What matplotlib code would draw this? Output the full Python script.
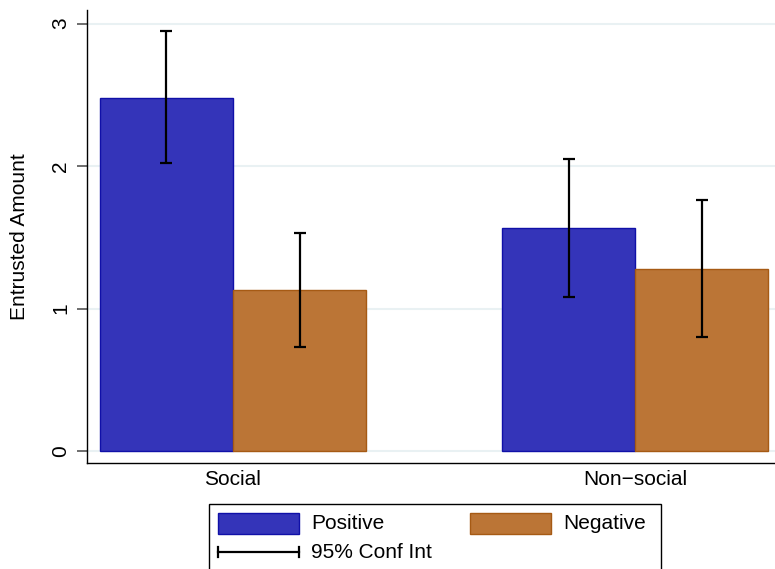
import matplotlib
matplotlib.use("Agg")
import matplotlib.pyplot as plt
from matplotlib.patches import Rectangle
from matplotlib.lines import Line2D
import numpy as np

plt.rcParams['font.family'] = ['Liberation Sans', 'DejaVu Sans']

categories = ["Social", "Non\u2212social"]
series = ["Positive", "Negative"]
means = {"Positive": [2.48, 1.565], "Negative": [1.13, 1.277]}
ci_low = {"Positive": [2.02, 1.08], "Negative": [0.73, 0.80]}
ci_high = {"Positive": [2.95, 2.05], "Negative": [1.53, 1.76]}
yticks = [0, 1, 2, 3]

fill_colors = {"Positive": "#3434B9", "Negative": "#BB7536"}
edge_colors = {"Positive": "#1010A8", "Negative": "#A65A14"}

W, H = 775, 569
fig = plt.figure(figsize=(W / 100, H / 100), dpi=100)
ax = fig.add_axes([87 / W, 1 - 463 / H, (775 - 87) / W, (463 - 10) / H])

x = np.arange(len(categories))
width = 0.331
offsets = {"Positive": -width / 2, "Negative": width / 2}

for s in series:
    xs = x + offsets[s]
    m = np.array(means[s])
    lo = np.array(ci_low[s])
    hi = np.array(ci_high[s])
    ax.bar(xs, m, width=width, color=fill_colors[s], edgecolor=edge_colors[s],
           linewidth=1.0, zorder=2)
    ax.errorbar(xs, m, yerr=[m - lo, hi - m], fmt='none', ecolor='black',
                elinewidth=1.6, capsize=4.5, capthick=1.6, zorder=3)

ax.set_xlim(-0.363, 1.348)
ax.set_ylim(-0.084, 3.095)
ax.set_yticks(yticks)
ax.set_yticklabels([str(t) for t in yticks], rotation=90, va='center', fontsize=15)
ax.set_xticks(x)
ax.set_xticklabels(categories, fontsize=15)
ax.tick_params(axis='x', length=0, pad=5)
ax.tick_params(axis='y', length=7, width=1.2, color='#555555', pad=5)
ax.set_ylabel("Entrusted Amount", fontsize=15, labelpad=16)

for sp in ['top', 'right']:
    ax.spines[sp].set_visible(False)
for sp in ['left', 'bottom']:
    ax.spines[sp].set_linewidth(1.0)

ax.yaxis.grid(True, color='#E9F1F3', linewidth=1.5, zorder=0)
ax.set_axisbelow(True)

# Legend drawn in figure coordinates
def fx(px):
    return px / W

def fy(py):
    return 1 - py / H

fig.patches.append(Rectangle((fx(209), fy(590)), fx(661) - fx(209), fy(504) - fy(590),
                             transform=fig.transFigure, fill=False, edgecolor='black',
                             linewidth=1.0))
for s, x0, tx in [("Positive", 218, 311), ("Negative", 470, 563)]:
    fig.patches.append(Rectangle((fx(x0), fy(534)), fx(x0 + 81) - fx(x0), fy(513) - fy(534),
                                 transform=fig.transFigure, facecolor=fill_colors[s],
                                 edgecolor=edge_colors[s], linewidth=1.0))
    fig.text(fx(tx), fy(523.5), s, fontsize=15, va='center', ha='left')

fig.lines.append(Line2D([fx(218), fx(299)], [fy(552), fy(552)], transform=fig.transFigure,
                        color='black', linewidth=1.6))
for xc in (218, 299):
    fig.lines.append(Line2D([fx(xc), fx(xc)], [fy(547), fy(557)], transform=fig.transFigure,
                            color='black', linewidth=1.6))
fig.text(fx(311), fy(552), "95% Conf Int", fontsize=15, va='center', ha='left')

fig.savefig("out.png", dpi=100)
